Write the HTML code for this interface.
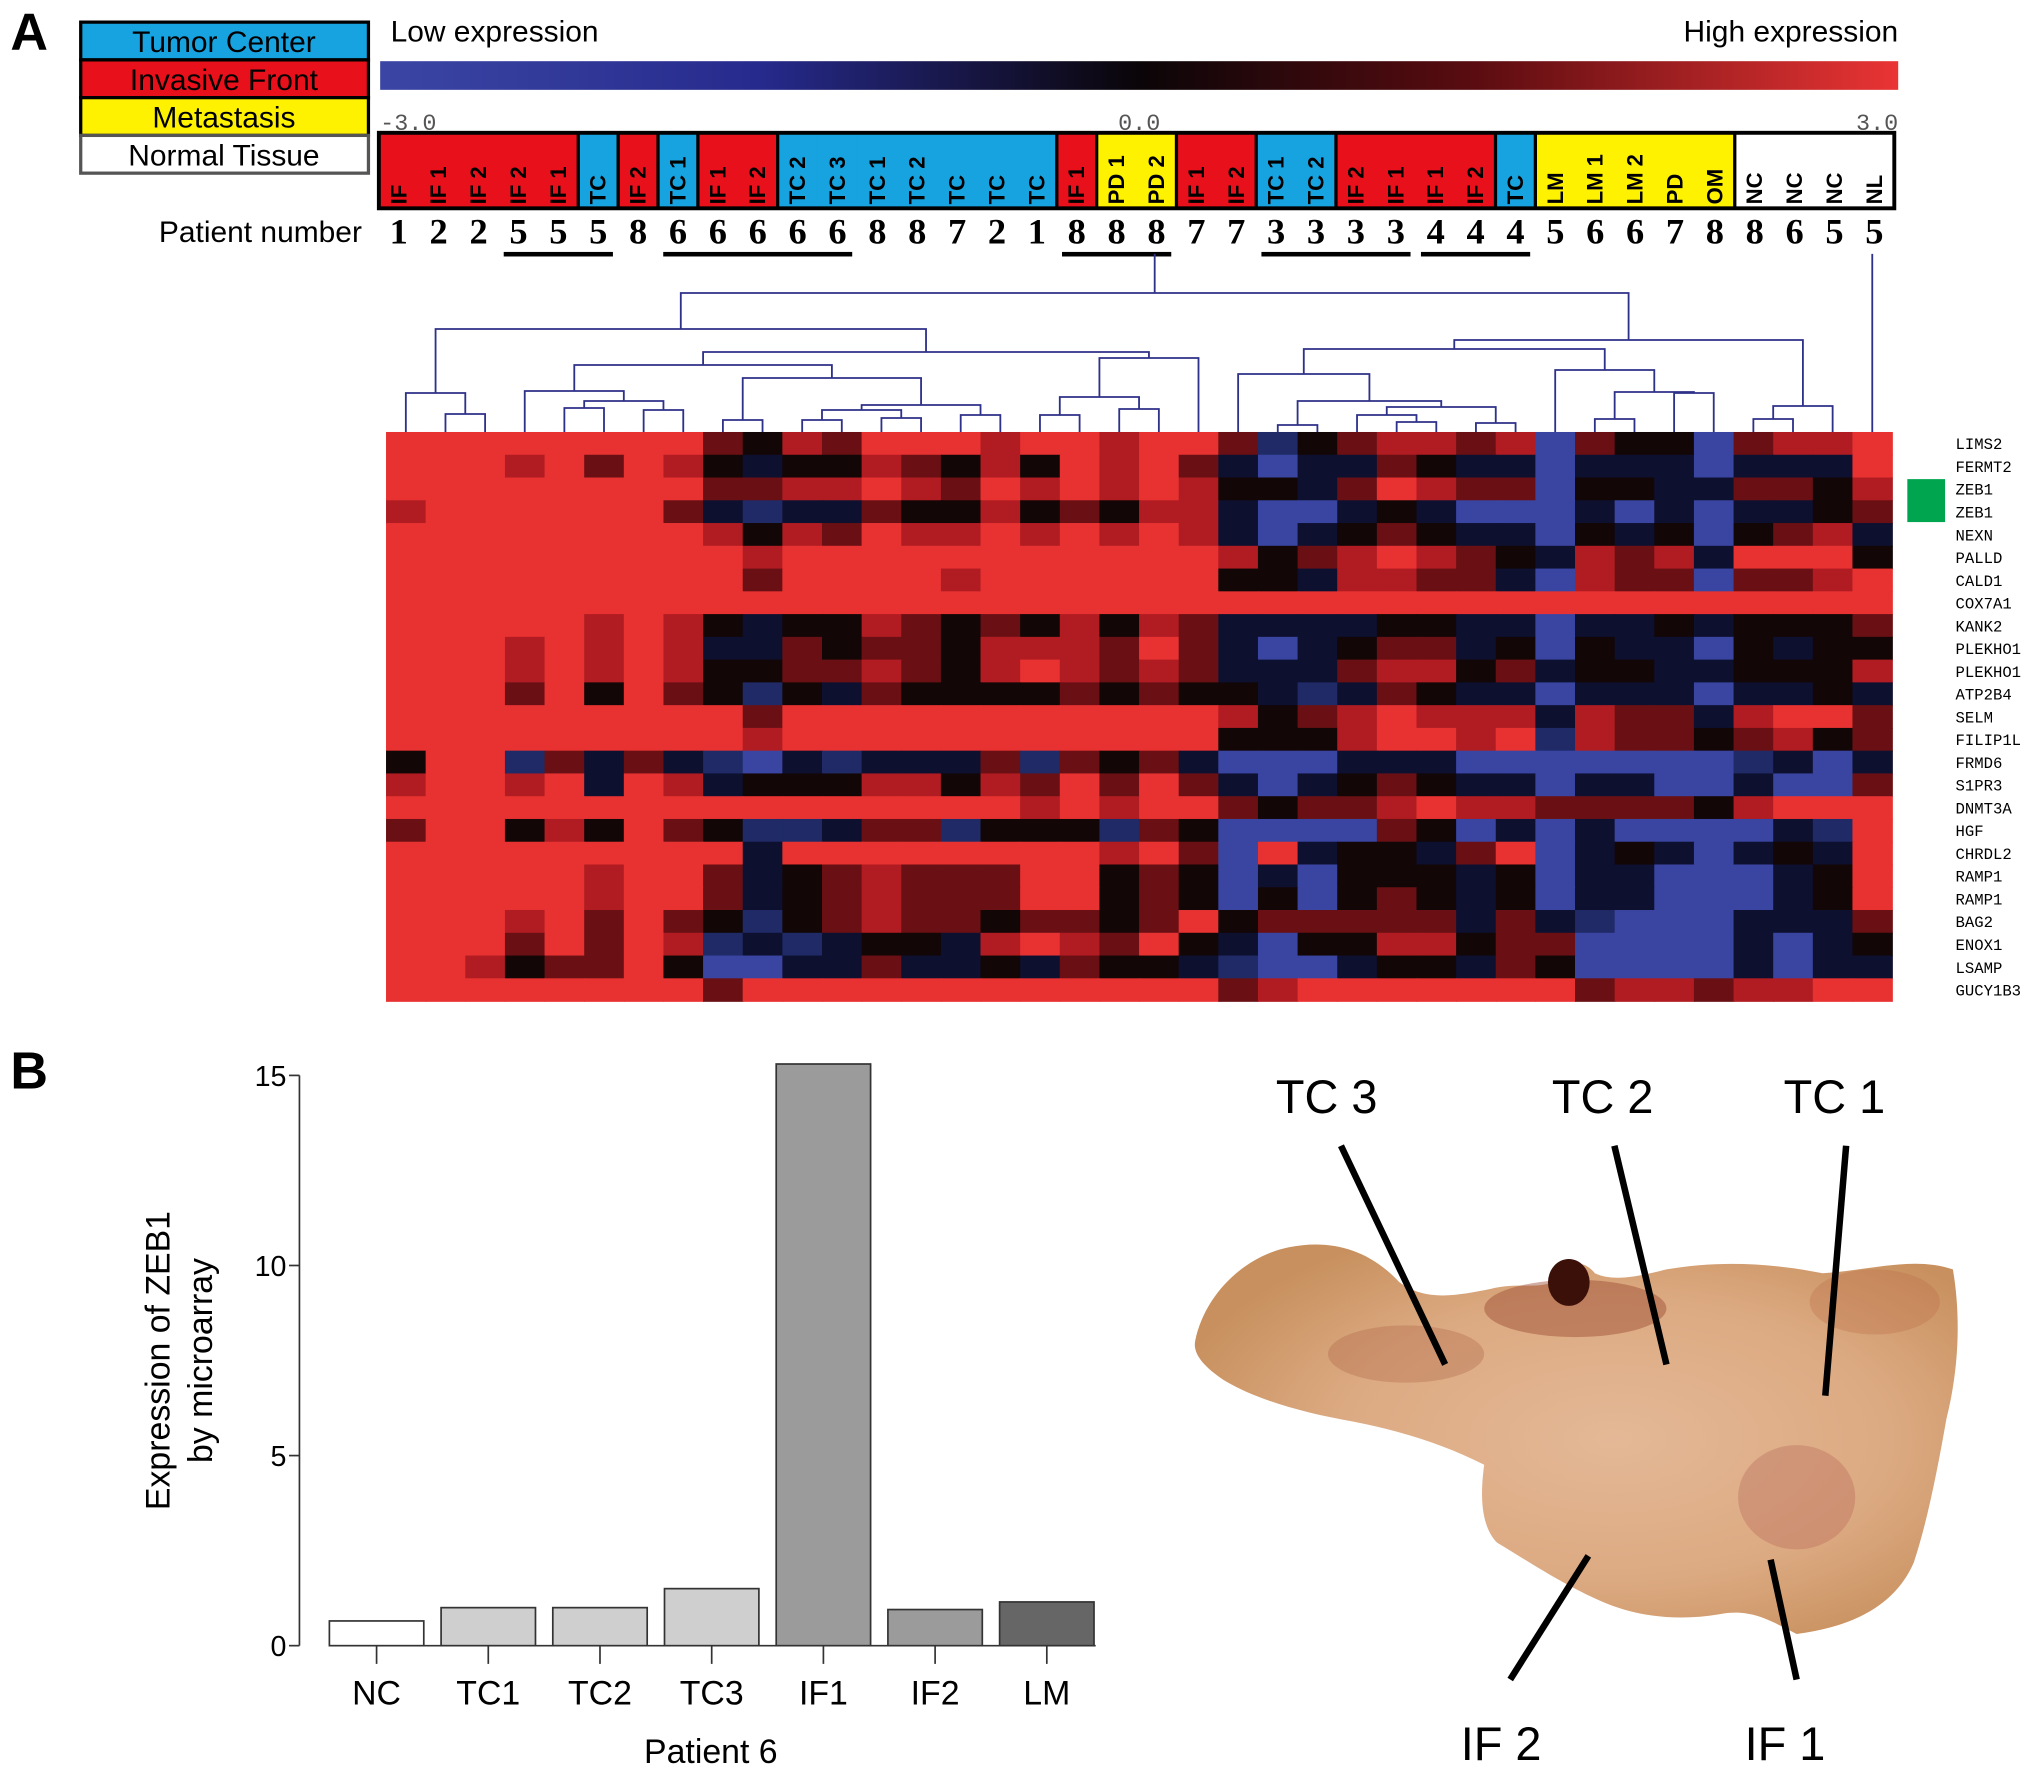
<!DOCTYPE html>
<html><head><meta charset="utf-8"><style>
html,body{margin:0;padding:0;background:#fff;}
svg{display:block;}
</style></head><body>
<svg id="fig" width="2031" height="1770" viewBox="0 0 1560 1359.5" preserveAspectRatio="none" xmlns="http://www.w3.org/2000/svg" font-family="Liberation Sans, sans-serif">
<defs>
<linearGradient id="cbar" x1="0" x2="1" y1="0" y2="0">
<stop offset="0" stop-color="#3b46a4"/><stop offset="0.25" stop-color="#262a8c"/><stop offset="0.5" stop-color="#0a0508"/><stop offset="0.72" stop-color="#5a0c10"/><stop offset="1" stop-color="#ea3434"/>
</linearGradient>
<radialGradient id="tissue" cx="0.55" cy="0.5" r="0.6">
<stop offset="0" stop-color="#e4b896"/><stop offset="0.6" stop-color="#dcaa82"/><stop offset="1" stop-color="#c8905e"/>
</radialGradient>
</defs>
<text x="8" y="38" font-size="40" font-weight="bold">A</text>
<g>
<rect x="62" y="17" width="221" height="29" fill="#17a3e0" stroke="#000" stroke-width="2.5"/>
<rect x="62" y="46" width="221" height="29" fill="#e8101a" stroke="#000" stroke-width="2.5"/>
<rect x="62" y="75" width="221" height="29" fill="#fff200" stroke="#000" stroke-width="2.5"/>
<rect x="62" y="104" width="221" height="29" fill="#fff" stroke="#555" stroke-width="2.5"/>
<text x="172" y="40" font-size="23" text-anchor="middle">Tumor Center</text>
<text x="172" y="69" font-size="23" text-anchor="middle">Invasive Front</text>
<text x="172" y="98" font-size="23" text-anchor="middle">Metastasis</text>
<text x="172" y="127" font-size="23" text-anchor="middle">Normal Tissue</text>
</g>
<g>
<text x="300" y="32" font-size="23">Low expression</text>
<text x="1458" y="32" font-size="23" text-anchor="end">High expression</text>
<rect x="292" y="47" width="1166" height="22" fill="url(#cbar)"/>
<text x="292" y="100" font-size="18" fill="#555" font-family="Liberation Mono, monospace">-3.0</text>
<text x="875" y="100" font-size="18" fill="#555" text-anchor="middle" font-family="Liberation Mono, monospace">0.0</text>
<text x="1458" y="100" font-size="18" fill="#555" text-anchor="end" font-family="Liberation Mono, monospace">3.0</text>
</g>
<g id="header"></g>
<text x="278" y="186" font-size="23" text-anchor="end">Patient number</text>
<g id="patients"></g>
<g id="dendro"></g>
<g id="heat"></g>
<g id="genes"></g>
<rect x="1465" y="368" width="29" height="33" fill="#00a550"/>
<text x="8" y="836" font-size="40" font-weight="bold">B</text>
<g id="bars"></g>
<g>
<path d="M918,1030 C925,995 955,965 990,958 C1020,952 1050,958 1075,985 C1095,1000 1120,995 1145,990 C1165,985 1180,990 1192,985 C1200,970 1215,965 1225,978 C1240,985 1260,980 1280,975 C1320,968 1360,970 1400,978 C1440,975 1470,965 1500,975 C1506,1010 1505,1050 1495,1090 C1488,1130 1480,1170 1470,1200 C1455,1235 1420,1250 1380,1255 C1360,1245 1345,1235 1320,1240 C1290,1245 1260,1242 1235,1232 C1205,1220 1175,1200 1150,1185 C1135,1170 1138,1140 1140,1125 C1110,1110 1080,1100 1040,1092 C1000,1085 965,1075 940,1060 C925,1050 916,1040 918,1030 Z" fill="url(#tissue)"/>
<ellipse cx="1210" cy="1005" rx="70" ry="22" fill="#9a4a30" opacity="0.45"/>
<ellipse cx="1080" cy="1040" rx="60" ry="22" fill="#b06848" opacity="0.35"/>
<ellipse cx="1380" cy="1150" rx="45" ry="40" fill="#b05a50" opacity="0.3"/>
<ellipse cx="1440" cy="1000" rx="50" ry="25" fill="#b86a44" opacity="0.3"/>
<ellipse cx="1205" cy="985" rx="16" ry="18" fill="#3a1008"/>
</g>
<g stroke="#000" stroke-width="5">
<line x1="1030" y1="880" x2="1110" y2="1048"/>
<line x1="1240" y1="880" x2="1280" y2="1048"/>
<line x1="1418" y1="880" x2="1402" y2="1072"/>
<line x1="1220" y1="1195" x2="1160" y2="1290"/>
<line x1="1360" y1="1198" x2="1380" y2="1290"/>
</g>
<g font-size="36">
<text x="980" y="855">TC 3</text><text x="1192" y="855">TC 2</text><text x="1370" y="855">TC 1</text>
<text x="1122" y="1352">IF 2</text><text x="1340" y="1352">IF 1</text>
</g>
</svg>
<script>
const NS="http://www.w3.org/2000/svg";
// ---- data ----
const sampleLabels=["IF","IF 1","IF 2","IF 2","IF 1","TC","IF 2","TC 1","IF 1","IF 2","TC 2","TC 3","TC 1","TC 2","TC","TC","TC","IF 1","PD 1","PD 2","IF 1","IF 2","TC 1","TC 2","IF 2","IF 1","IF 1","IF 2","TC","LM","LM 1","LM 2","PD","OM","NC","NC","NC","NL"];
const patientNumbers=[1,2,2,5,5,5,8,6,6,6,6,6,8,8,7,2,1,8,8,8,7,7,3,3,3,3,4,4,4,5,6,6,7,8,8,6,5,5];
const underlineGroups=[[3,5],[7,11],[17,19],[22,25],[26,28]];
const genes=["LIMS2","FERMT2","ZEB1","ZEB1","NEXN","PALLD","CALD1","COX7A1","KANK2","PLEKHO1","PLEKHO1","ATP2B4","SELM","FILIP1L","FRMD6","S1PR3","DNMT3A","HGF","CHRDL2","RAMP1","RAMP1","BAG2","ENOX1","LSAMP","GUCY1B3"];
// expression codes: R=3 r=2 d=1 k=0 n=-1 b=-2 B=-3
const heatRows=[
"RRRRRRRRdkrdRRRrRRr"+"RRdbkdrrdrBdkkBdrrR",
"RRRrRdRrknkkrdkrkRr"+"RdnBnndknnBnnnBnnnR",
"RRRRRRRRddrrRrdRrRr"+"RrkkndRrddBkknnddkr",
"rRRRRRRdnbnndkkrkdk"+"rrnBBnknBBBnBnBnnkd",
"RRRRRRRRrkrdRrrRrRr"+"RrnBnkdknnBknkBkdrn",
"RRRRRRRRRrRRRRRRRRR"+"RRrkdrRrdknrdrnRRRk",
"RRRRRRRRRdRRRRrRRRR"+"RRkknrrddnBrddBddrR",
"RRRRRRRRRRRRRRRRRRR"+"RRRRRRRRRRRRRRRRRRR",
"RRRRRrRrknkkrdkdkrk"+"rdnnnnkknnBnnknkkkd",
"RRRrRrRrnndkddkrrrd"+"RdnBnkddnkBknnBknkk",
"RRRrRrRrkkddrdkrRrd"+"rdnnndrrkdnkknnkkkr",
"RRRdRkRdkbkndkkkkdk"+"dkknbndknnBnnnBnnkn",
"RRRRRRRRRdRRRRRRRRR"+"RRrkdrRrrrnrddnrRRd",
"RRRRRRRRRrRRRRRRRRR"+"RRkkkrRRrRbrddkdrkd",
"kRRbdndnbBnbnnndbdk"+"dnBBBnnnBBBBBBBbnBn",
"rRRrRnRrnkkkrrkrdRd"+"RdnBnkdknnBnnBBnBBd",
"RRRRRRRRRRRRRRRRrRr"+"RRdkddrRrrddddkrRRR",
"dRRkrkRdkbbnddbkkkb"+"dkBBBBdkBnBnBBBBnbR",
"RRRRRRRRRnRRRRRRRRr"+"RdBRnkkndRBnknBnknR",
"RRRRRrRRdnkdrdddRRk"+"dkBnBkkknkBnnBBBnkR",
"RRRRRrRRdnkdrdddRRk"+"dkBkBkdknkBnnBBBnkR",
"RRRrRdRdkbkdrddkddk"+"dRkdddddndnbBBBnnnd",
"RRRdRdRrbnbnkknrRrd"+"RknBkkrrkddBBBBnBnk",
"RRrkddRkBBnndnnkndk"+"knbBBnkkndkBBBBnBnn",
"RRRRRRRRdRRRRRRRRRR"+"RRdrRRRRRRRdrrdrrRR"];
const codeValues={R:3,r:2,d:1,k:0,n:-1,b:-2,B:-3};
// dendrogram: [left,right,height(original px)] ; numbers = leaves
const dendroTree=[[[0,[1,2,414],393],[[[3,[[4,5,408],[6,7,410],401],391],[[8,9,420],[[[10,11,420],[12,13,418],410],[14,15,415],405],378],365],[[[16,17,415],[18,19,409],397],20,358],352],329],
 [[[21,[[22,23,425],[[24,[25,26,422],415],[27,28,423],407],401],374],[29,[[30,31,419],[32,33,393],392],370],349],[[34,35,419],36,406],340],293];
const barCats=["NC","TC1","TC2","TC3","IF1","IF2","LM"];
const barVals=[0.65,1.0,1.0,1.5,15.3,0.95,1.15];
const barColors=["#ffffff","#cfcfcf","#cfcfcf","#cfcfcf","#9b9b9b","#9b9b9b","#666666"];
const yTicks=[0,5,10,15];

function mk(tag,attrs,parent){const e=document.createElementNS(NS,tag);for(const k in attrs)e.setAttribute(k,attrs[k]);parent.appendChild(e);return e;}
const typeColor=l=>l.startsWith("IF")?"#e8101a":l.startsWith("TC")?"#17a3e0":(l.startsWith("N")?"#ffffff":"#fff200");
const typeOf=l=>l.startsWith("IF")?"IF":l.startsWith("TC")?"TC":l.startsWith("N")?"N":"M";
const SC=1.3019;

// header
const H=document.getElementById("header");
const hx0=291,hx1=1455,hy0=102,hy1=160,hw=(hx1-hx0)/sampleLabels.length;
sampleLabels.forEach((l,i)=>{
 const r=mk("rect",{x:hx0+i*hw,y:hy0,width:hw+0.5,height:hy1-hy0,fill:typeColor(l)},H);
 
 
});
sampleLabels.forEach((l,i)=>{
 if(i>0&&typeOf(l)!==typeOf(sampleLabels[i-1])) mk("line",{x1:hx0+i*hw,x2:hx0+i*hw,y1:hy0,y2:hy1,stroke:"#000","stroke-width":2.5},H);
 const cx=hx0+(i+0.5)*hw,by=157;
 const t=mk("text",{x:cx,y:by,transform:`rotate(-90 ${cx} ${by})`,"font-size":17,"font-weight":"bold","dominant-baseline":"central"},H);
 t.textContent=l;
 
 
});
mk("rect",{x:hx0,y:hy0,width:hx1-hx0,height:hy1-hy0,fill:"none",stroke:"#000","stroke-width":3},H);

// patient numbers
const P=document.getElementById("patients");
patientNumbers.forEach((n,i)=>{
 const t=mk("text",{x:hx0+(i+0.5)*hw,y:187,"font-size":28,"font-weight":"bold","text-anchor":"middle","font-family":"Liberation Serif, serif"},P);
 t.textContent=n;
 
 
});
underlineGroups.forEach(g=>{
 const r=mk("rect",{x:hx0+g[0]*hw+4,y:193.5,width:(g[1]-g[0]+1)*hw-8,height:3.5,fill:"#000"},P);
 
 
});

// heatmap
const HM=document.getElementById("heat");
const x0=296.5,x1=1453.3,y0=331.8,y1=768.9;
const ncol=38,nrow=genes.length,cw=(x1-x0)/ncol,rh=(y1-y0)/nrow;
const anchors=[[-3,[58,69,162]],[-2,[31,42,102]],[-1,[14,16,48]],[0,[18,6,6]],[1,[106,16,20]],[2,[176,28,34]],[3,[232,50,50]]];
function colorOf(v){v=Math.max(-3,Math.min(3,v));for(let i=0;i<anchors.length-1;i++){const a=anchors[i],b=anchors[i+1];if(v<=b[0]){const t=(v-a[0])/(b[0]-a[0]);const c=a[1].map((x,j)=>Math.round(x+(b[1][j]-x)*t));return `rgb(${c})`;}}return "rgb(232,50,50)";}
const colX=i=>x0+i*cw, rowY=j=>y0+j*rh;
heatRows.forEach((row,j)=>{
 for(let i=0;i<ncol;i++){
  const v=codeValues[row[i]]!==undefined?codeValues[row[i]]:3;
  const r=mk("rect",{x:colX(i),y:rowY(j),width:cw+0.6,height:rh+0.6,fill:colorOf(v)},HM);
  
  
 }
});
const G=document.getElementById("genes");
genes.forEach((g,j)=>{
 const t=mk("text",{x:1502,y:rowY(j)+rh/2+4.5,"font-size":12,"font-family":"Liberation Mono, monospace"},G);
 t.textContent=g;
 
 
});

// dendrogram
const D=document.getElementById("dendro");
const leafTop=y0;
let dpath="";
function draw(node){
 if(typeof node==="number") return [x0+(node+0.5)*cw,leafTop];
 const a=draw(node[0]),b=draw(node[1]),h=node[2]/SC;
 dpath+=`M${a[0]},${a[1]}V${h}H${b[0]}V${b[1]}`;
 return [(a[0]+b[0])/2,h];
}
const root=draw(dendroTree);
dpath+=`M${root[0]},${root[1]}V${195}`;
dpath+=`M${x0+37.5*cw},${leafTop}V${195}`;
const dp=mk("path",{d:dpath,fill:"none",stroke:"#2e318a","stroke-width":1.4},D);



// bar chart
const B=document.getElementById("bars");
const ax=230,base=1264,top15=826,bx0=253,bstep=85.8,bw=72.5;
const yS=v=>base-v*(base-top15)/15;
mk("line",{x1:ax,x2:ax,y1:yS(15),y2:base,stroke:"#333","stroke-width":1.3},B);
mk("line",{x1:bx0,x2:bx0+bstep*barCats.length-12,y1:base,y2:base,stroke:"#333","stroke-width":1.3},B);
yTicks.forEach(t=>{
 mk("line",{x1:ax-8,x2:ax,y1:yS(t),y2:yS(t),stroke:"#333","stroke-width":1.3},B);
 const tx=mk("text",{x:ax-10,y:yS(t)+8,"font-size":22,"text-anchor":"end"},B);
 tx.textContent=t;
 
 
});
barCats.forEach((c,i)=>{
 const bx=bx0+i*bstep;
 const r=mk("rect",{x:bx,y:yS(barVals[i]),width:bw,height:base-yS(barVals[i]),fill:barColors[i],stroke:"#333","stroke-width":1.3},B);
 
 
 mk("line",{x1:bx+bw/2,x2:bx+bw/2,y1:base,y2:base+14,stroke:"#333","stroke-width":1.3},B);
 const t=mk("text",{x:bx+bw/2,y:1309,"font-size":26,"text-anchor":"middle"},B);
 t.textContent=c;
 
 
});
const xt=mk("text",{x:546,y:1354,"font-size":26,"text-anchor":"middle"},B);
xt.textContent="Patient 6";


const yt=mk("text",{x:0,y:0,"font-size":26,"text-anchor":"middle",transform:"translate(130,1045) rotate(-90)"},B);


const s1=mk("tspan",{x:0,dy:0},yt);s1.textContent="Expression of ZEB1";
const s2=mk("tspan",{x:0,dy:33},yt);s2.textContent="by microarray";
</script>
</body></html>
